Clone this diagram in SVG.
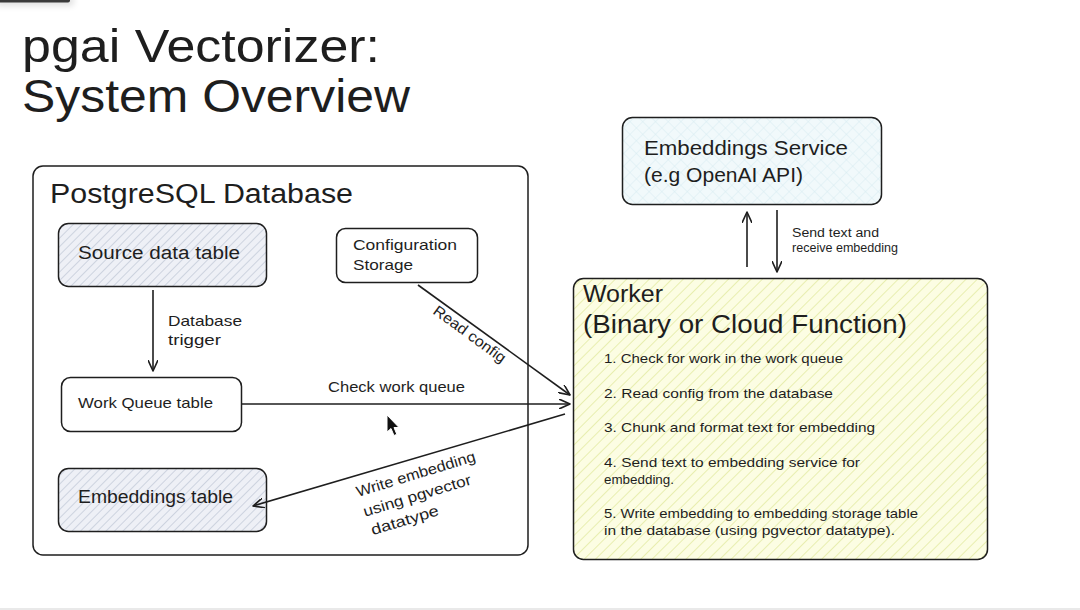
<svg xmlns="http://www.w3.org/2000/svg" width="1080" height="610" viewBox="0 0 1080 610">
<style>
  text { font-family: "Liberation Sans", "Open Sans", sans-serif; fill: #1e1e1e; }
  .box { stroke: #1e1e1e; stroke-width: 1.5; }
  .edge { stroke: #1e1e1e; stroke-width: 1.6; fill: none; marker-end: url(#arrow); }
  .t19 { font-size: 18px; }
  .t16 { font-size: 15px; }
  .t14 { font-size: 13.5px; }
</style>
<defs>
  <pattern id="hatchBlue" width="6" height="6" patternUnits="userSpaceOnUse" patternTransform="rotate(45)">
    <rect width="6" height="6" fill="#eef0f6"/>
    <line x1="0" y1="0" x2="0" y2="6" stroke="#bcc3d3" stroke-width="1.3"/>
  </pattern>
  <pattern id="hatchYellow" width="8" height="8" patternUnits="userSpaceOnUse" patternTransform="rotate(45)">
    <rect width="8" height="8" fill="#fcfde3"/>
    <line x1="0" y1="0" x2="0" y2="8" stroke="#e8eeb0" stroke-width="2"/>
  </pattern>
  <pattern id="hatchCyan" width="9" height="9" patternUnits="userSpaceOnUse" patternTransform="rotate(45)">
    <rect width="9" height="9" fill="#f1f9fb"/>
    <line x1="0" y1="0" x2="0" y2="9" stroke="#d7ecf1" stroke-width="1"/>
    <line x1="0" y1="0" x2="9" y2="0" stroke="#d7ecf1" stroke-width="1"/>
  </pattern>
  <marker id="arrow" viewBox="0 0 12 10" refX="11" refY="5" markerWidth="12" markerHeight="10" markerUnits="userSpaceOnUse" orient="auto">
    <path d="M0,0 L11,5 L0,10" fill="none" stroke="#1e1e1e" stroke-width="1.6" stroke-linecap="round" stroke-linejoin="round"/>
  </marker>
  <filter id="soft" x="-20%" y="-100%" width="140%" height="400%">
    <feGaussianBlur stdDeviation="3"/>
  </filter>
</defs>

<rect width="1080" height="610" fill="#ffffff"/>
<!-- screen artifacts -->
<rect x="-4" y="-4" width="78" height="10" rx="4" fill="#000" opacity="0.12" filter="url(#soft)"/>
<rect x="-4" y="-4" width="74" height="6.5" rx="2" fill="#3a3a3a"/>
<line x1="0" y1="609" x2="1080" y2="609" stroke="#e2e2e2" stroke-width="1.5"/>

<g id="title">
  <text x="22" y="62" font-size="46" textLength="358" lengthAdjust="spacingAndGlyphs">pgai Vectorizer:</text>
  <text x="22" y="112" font-size="46" textLength="388" lengthAdjust="spacingAndGlyphs">System Overview</text>
</g>

<g id="postgres">
  <rect class="box" x="33" y="166" width="495" height="389" rx="10" fill="#ffffff"/>
  <text x="50" y="203" font-size="27" textLength="303" lengthAdjust="spacingAndGlyphs">PostgreSQL Database</text>
</g>

<g id="embeddings-service">
  <rect class="box" x="622.5" y="117.5" width="259" height="87" rx="10" fill="url(#hatchCyan)"/>
  <text x="644" y="155" font-size="21" textLength="204" lengthAdjust="spacingAndGlyphs">Embeddings Service</text>
  <text x="644" y="182" font-size="21" textLength="159" lengthAdjust="spacingAndGlyphs">(e.g OpenAI API)</text>
</g>

<g id="worker">
  <rect class="box" x="573.5" y="278.5" width="414" height="281" rx="10" fill="url(#hatchYellow)"/>
  <text x="583" y="302" font-size="23" textLength="80" lengthAdjust="spacingAndGlyphs">Worker</text>
  <text x="583" y="333" font-size="26" textLength="324" lengthAdjust="spacingAndGlyphs">(Binary or Cloud Function)</text>
  <text class="t14" x="604" y="363" textLength="239" lengthAdjust="spacingAndGlyphs">1. Check for work in the work queue</text>
  <text class="t14" x="604" y="398" textLength="229" lengthAdjust="spacingAndGlyphs">2. Read config from the database</text>
  <text class="t14" x="604" y="432" textLength="271" lengthAdjust="spacingAndGlyphs">3. Chunk and format text for embedding</text>
  <text class="t14" x="604" y="467" textLength="256" lengthAdjust="spacingAndGlyphs">4. Send text to embedding service for</text>
  <text class="t14" x="604" y="484" textLength="70" lengthAdjust="spacingAndGlyphs">embedding.</text>
  <text class="t14" x="604" y="518" textLength="314" lengthAdjust="spacingAndGlyphs">5. Write embedding to embedding storage table</text>
  <text class="t14" x="604" y="535" textLength="291" lengthAdjust="spacingAndGlyphs">in the database (using pgvector datatype).</text>
</g>

<g id="source-data-table">
  <rect class="box" x="58.5" y="223.5" width="208" height="63" rx="10" fill="url(#hatchBlue)"/>
  <text class="t19" x="78" y="259" textLength="162" lengthAdjust="spacingAndGlyphs">Source data table</text>
</g>

<g id="configuration-storage">
  <rect class="box" x="336.5" y="228.5" width="141" height="54" rx="9" fill="#ffffff"/>
  <text class="t16" x="353" y="250" textLength="104" lengthAdjust="spacingAndGlyphs">Configuration</text>
  <text class="t16" x="353" y="270" textLength="60" lengthAdjust="spacingAndGlyphs">Storage</text>
</g>

<g id="work-queue-table">
  <rect class="box" x="61.5" y="377.5" width="180" height="54" rx="9" fill="#ffffff"/>
  <text class="t16" x="78" y="408" textLength="135" lengthAdjust="spacingAndGlyphs">Work Queue table</text>
</g>

<g id="embeddings-table">
  <rect class="box" x="58.5" y="468.5" width="208" height="63" rx="10" fill="url(#hatchBlue)"/>
  <text class="t19" x="78" y="503" textLength="155" lengthAdjust="spacingAndGlyphs">Embeddings table</text>
</g>

<g id="connectors">
  <line class="edge" x1="153" y1="290" x2="153" y2="371"/>
  <text class="t16" x="168" y="326" textLength="74" lengthAdjust="spacingAndGlyphs">Database</text>
  <text class="t16" x="168" y="345" textLength="53" lengthAdjust="spacingAndGlyphs">trigger</text>

  <line class="edge" x1="418" y1="285" x2="570" y2="395"/>
  <text class="t16" transform="translate(432,313) rotate(36)" x="0" y="0" textLength="86" lengthAdjust="spacingAndGlyphs">Read config</text>

  <line class="edge" x1="242" y1="404" x2="570" y2="404"/>
  <text class="t16" x="328" y="392" textLength="137" lengthAdjust="spacingAndGlyphs">Check work queue</text>

  <line class="edge" x1="565" y1="414" x2="253" y2="506"/>
  <g transform="translate(358,497) rotate(-17)">
    <text class="t16" x="0" y="0" textLength="124" lengthAdjust="spacingAndGlyphs">Write embedding</text>
    <text class="t16" x="1" y="21" textLength="112" lengthAdjust="spacingAndGlyphs">using pgvector</text>
    <text class="t16" x="3" y="41" textLength="70" lengthAdjust="spacingAndGlyphs">datatype</text>
  </g>

  <line class="edge" x1="747" y1="267" x2="747" y2="212"/>
  <line class="edge" x1="777" y1="210" x2="777" y2="272"/>
  <text font-size="12.5" x="792" y="237" textLength="87" lengthAdjust="spacingAndGlyphs">Send text and</text>
  <text font-size="12.5" x="792" y="252" textLength="106" lengthAdjust="spacingAndGlyphs">receive embedding</text>
</g>

<g id="cursor" transform="translate(387,415)">
  <path d="M0,0 L0,17 L4,13.5 L7,20.5 L9.8,19.3 L7,12.5 L12,12.5 Z" fill="#111" stroke="#ffffff" stroke-width="1" stroke-linejoin="round"/>
</g>
</svg>
